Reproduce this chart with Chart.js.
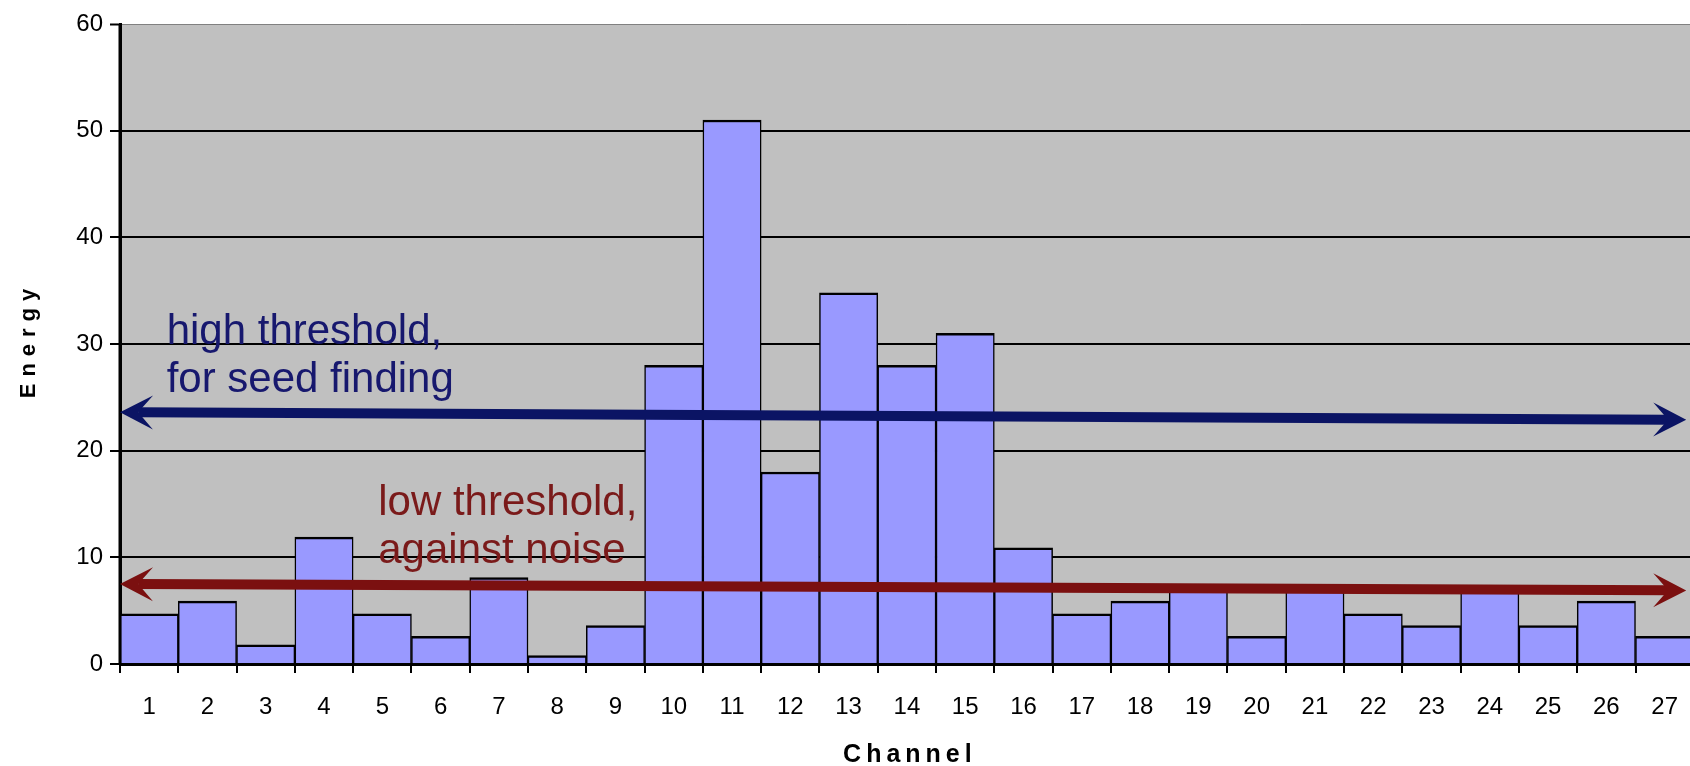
<!DOCTYPE html>
<html>
<head>
<meta charset="utf-8">
<script src="https://cdn.jsdelivr.net/npm/chart.js@4.4.0/dist/chart.umd.min.js"></script>
<style>
  html, body { margin: 0; padding: 0; background: #fff; overflow: hidden; }
  #wrap { width: 1698px; height: 766px; }
</style>
</head>
<body>
<div id="wrap"><canvas id="energyChart" width="1698" height="766"></canvas></div>
<script>
    // --- DATA ---
    const channels = ['1','2','3','4','5','6','7','8','9','10','11','12','13','14',
                      '15','16','17','18','19','20','21','22','23','24','25','26','27'];
    const energy = [4.7, 5.9, 1.8, 11.9, 4.7, 2.6, 8.1, 0.8, 3.6, 28, 51, 18, 34.8, 28,
                    31, 10.9, 4.7, 5.9, 7, 2.6, 7, 4.7, 3.6, 7, 3.6, 5.9, 2.6];
    const highThreshold = [23.6, 22.9];   // energy at left / right arrow tip
    const lowThreshold = [7.5, 6.9];
    const highLabel = ['high threshold,', 'for seed finding'];
    const lowLabel = ['low threshold,', 'against noise'];
    const xTitle = 'Channel';
    const yTitle = 'Energy';

    Chart.defaults.font.family = "'Liberation Sans', Arial, sans-serif";
    Chart.defaults.color = '#000';

    // --- ANNOTATION LAYOUT (channel units / energy units) ---
    const arrowSpan = [0.5, 27.37];
    const arrows = [
        { values: highThreshold, color: '#0b1464' },
        { values: lowThreshold, color: '#7b1010' }
    ];
    const labels = [
        { lines: highLabel, at: [1.30, 30.0], color: '#17186e' },
        { lines: lowLabel, at: [4.93, 14.0], color: '#7a1a1a' }
    ];

    function drawArrow(ctx, x1, y1, x2, y2, color, w, headLen, headHalf) {
        const dx = x2 - x1, dy = y2 - y1, len = Math.hypot(dx, dy);
        const ux = dx / len, uy = dy / len, px = -uy, py = ux;
        const notch = headLen * 0.55;
        ctx.save();
        ctx.strokeStyle = color;
        ctx.fillStyle = color;
        ctx.lineWidth = w;
        ctx.beginPath();
        ctx.moveTo(x1 + ux * notch, y1 + uy * notch);
        ctx.lineTo(x2 - ux * notch, y2 - uy * notch);
        ctx.stroke();
        [[x1, y1, 1], [x2, y2, -1]].forEach(([tx, ty, s]) => {
            const bx = tx + s * ux * headLen, by = ty + s * uy * headLen;
            ctx.beginPath();
            ctx.moveTo(tx, ty);
            ctx.lineTo(bx + px * headHalf, by + py * headHalf);
            ctx.lineTo(tx + s * ux * notch, ty + s * uy * notch);
            ctx.lineTo(bx - px * headHalf, by - py * headHalf);
            ctx.closePath();
            ctx.fill();
        });
        ctx.restore();
    }

    const plotBackground = {
        id: 'plotBackground',
        beforeDraw(chart) {
            const { ctx, chartArea: a } = chart;
            ctx.save();
            ctx.fillStyle = '#c0c0c0';
            ctx.fillRect(a.left, a.top, a.right - a.left, a.bottom - a.top);
            ctx.restore();
        }
    };

    const thresholds = {
        id: 'thresholds',
        afterDatasetsDraw(chart) {
            const { ctx, chartArea: a, scales: { x, y } } = chart;
            // y axis line back on top of the first bar
            ctx.save();
            ctx.strokeStyle = '#000';
            ctx.lineWidth = 3;
            ctx.beginPath();
            ctx.moveTo(a.left, a.top);
            ctx.lineTo(a.left, a.bottom);
            ctx.stroke();
            ctx.restore();

            arrows.forEach(arw => {
                drawArrow(ctx,
                    x.getPixelForValue(arrowSpan[0] - 1), y.getPixelForValue(arw.values[0]),
                    x.getPixelForValue(arrowSpan[1] - 1), y.getPixelForValue(arw.values[1]),
                    arw.color, 10, 33, 17);
            });

            ctx.save();
            ctx.font = "42px 'Liberation Sans', Arial, sans-serif";
            ctx.textAlign = 'left';
            ctx.textBaseline = 'alphabetic';
            labels.forEach(lb => {
                ctx.fillStyle = lb.color;
                const px = x.getPixelForValue(lb.at[0] - 1);
                const py = y.getPixelForValue(lb.at[1]);
                lb.lines.forEach((t, i) => ctx.fillText(t, px, py + i * 48));
            });
            ctx.restore();
        }
    };

    const axisTitles = {
        id: 'axisTitles',
        afterDraw(chart) {
            const { ctx, chartArea: a } = chart;
            ctx.save();
            ctx.fillStyle = '#000';
            ctx.textAlign = 'center';
            ctx.textBaseline = 'middle';
            ctx.font = "bold 25px 'Liberation Sans', Arial, sans-serif";
            ctx.letterSpacing = '5px';
            ctx.fillText(xTitle, (a.left + a.right) / 2 + 3, 755);
            ctx.translate(29, (a.top + a.bottom) / 2);
            ctx.rotate(-Math.PI / 2);
            ctx.font = "bold 22px 'Liberation Sans', Arial, sans-serif";
            ctx.letterSpacing = '7px';
            ctx.fillText(yTitle, 4, 0);
            ctx.restore();
        }
    };

    // --- CHART ---
    const ctx = document.getElementById('energyChart').getContext('2d');
    const energyChart = new Chart(ctx, {
        type: 'bar',
        data: {
            labels: channels,
            datasets: [{
                data: energy,
                backgroundColor: '#9999ff',
                borderColor: '#000',
                borderWidth: { top: 2.5, left: 1.5, right: 1.5, bottom: 0 },
                borderSkipped: false,
                categoryPercentage: 1.0,
                barPercentage: 1.0
            }]
        },
        options: {
            responsive: false,
            animation: false,
            devicePixelRatio: 1,
            layout: { padding: { top: 24, right: 0, bottom: 0, left: 0 } },
            scales: {
                x: {
                    offset: true,
                    z: 1,
                    grid: {
                        offset: true,
                        drawOnChartArea: false,
                        tickLength: 9,
                        color: '#000',
                        lineWidth: 2
                    },
                    border: { color: '#000', width: 3 },
                    ticks: { font: { size: 24 }, padding: 20, maxRotation: 0, autoSkip: false },
                    afterFit: s => { s.height = 102; }
                },
                y: {
                    min: 0,
                    max: 60,
                    grid: {
                        color: c => c.tick && c.tick.value === 60 ? '#808080' : '#000',
                        lineWidth: c => c.tick && c.tick.value === 60 ? 1 : 2,
                        tickColor: '#000',
                        tickWidth: 2,
                        tickLength: 10
                    },
                    border: { color: '#000', width: 3 },
                    ticks: { stepSize: 10, font: { size: 24 }, padding: 7 },
                    afterFit: s => { s.width = 120; }
                }
            },
            plugins: { legend: { display: false }, tooltip: { enabled: false } }
        },
        plugins: [plotBackground, thresholds, axisTitles]
    });
</script>
</body>
</html>
